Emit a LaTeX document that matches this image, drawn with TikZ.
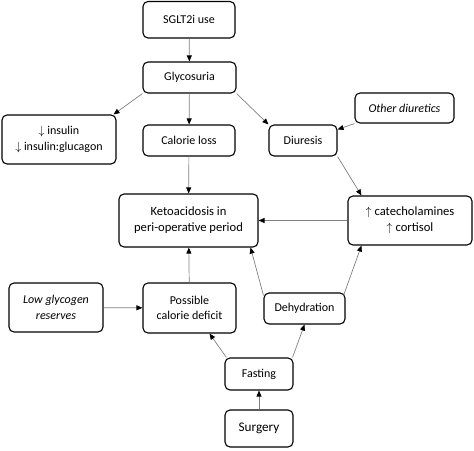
\documentclass[tikz,border=0pt]{standalone}
\usepackage{fontspec}
\setmainfont{Carlito}
\usetikzlibrary{arrows.meta}
\tikzstyle{box} = [draw, line width=1.1pt, rounded corners=5pt, align=center, inner sep=1pt, font=\fontsize{12}{15.5}\selectfont]
\tikzstyle{bigbox} = [box, font=\fontsize{12.6}{16}\selectfont]
\tikzstyle{arrow} = [-{Triangle[length=6pt,width=5pt,color=black]}, draw=gray, line width=0.7pt]

\begin{document}
\begin{tikzpicture}[x=1pt,y=-1pt]
    \useasboundingbox (0,0) rectangle (474,450);
    % top row
    \node[box, minimum width=92pt, minimum height=36.5pt] (sglt) at (189,19.75) {SGLT2i use};
    \node[box, minimum width=93pt, minimum height=31pt] (glyc) at (189.5,77.5) {Glycosuria};
    \node[box, minimum width=114pt, minimum height=49pt] (insulin) at (59,139.5) {$\downarrow$ insulin\\$\downarrow$ insulin:glucagon};
    \node[box, minimum width=92pt, minimum height=31pt] (calloss) at (189,140.5) {Calorie loss};
    \node[box, minimum width=68pt, minimum height=31pt] (diur) at (303,140.5) {Diuresis};
    \node[box, minimum width=99pt, minimum height=30pt] (otherdiur) at (404.5,108) {\itshape Other diuretics};
    % middle
    \node[bigbox, minimum width=139pt, minimum height=53pt] (keto) at (188.5,220.5) {Ketoacidosis in\\peri-operative period};
    \node[bigbox, minimum width=124pt, minimum height=49pt] (catech) at (410,220.5) {$\uparrow$ catecholamines\\$\uparrow$ cortisol};
    % bottom
    \node[box, minimum width=94pt, minimum height=49pt] (lowglyc) at (56,307.5) {\itshape Low glycogen\\\itshape reserves};
    \node[box, minimum width=93pt, minimum height=50pt] (deficit) at (189.5,308) {Possible\\calorie deficit};
    \node[box, minimum width=81pt, minimum height=31pt] (dehyd) at (304.5,308.5) {Dehydration};
    \node[box, minimum width=68pt, minimum height=32pt] (fasting) at (259,374) {Fasting};
    \node[bigbox, font=\fontsize{13.2}{16}\selectfont, minimum width=68pt, minimum height=37pt] (surgery) at (259,428.5) {Surgery};

    \draw[arrow] (sglt) -- (glyc);
    \draw[arrow] (glyc.south west) -- ([xshift=-3pt]insulin.north east);
    \draw[arrow] (glyc) -- (calloss);
    \draw[arrow] (glyc.south east) -- (diur.north west);
    \draw[arrow] (otherdiur.south west) -- ([yshift=-5pt]diur.north east);
    \draw[arrow] (calloss) -- (keto);
    \draw[arrow] (diur.south east) -- ([xshift=14pt]catech.north west);
    \draw[arrow] (catech) -- (keto);
    \draw[arrow] ([yshift=-3pt]dehyd.north west) -- ([xshift=-8pt]keto.south east);
    \draw[arrow] ([xshift=-2pt,yshift=-3pt]dehyd.north east) -- ([xshift=14pt]catech.south west);
    \draw[arrow] (lowglyc) -- (deficit);
    \draw[arrow] (deficit) -- (keto);
    \draw[arrow] ([xshift=2pt]fasting.north west) -- ([xshift=20pt]deficit.south);
    \draw[arrow] ([xshift=-1pt]fasting.north east) -- (dehyd.south);
    \draw[arrow] (surgery) -- (fasting);
\end{tikzpicture}
\end{document}
